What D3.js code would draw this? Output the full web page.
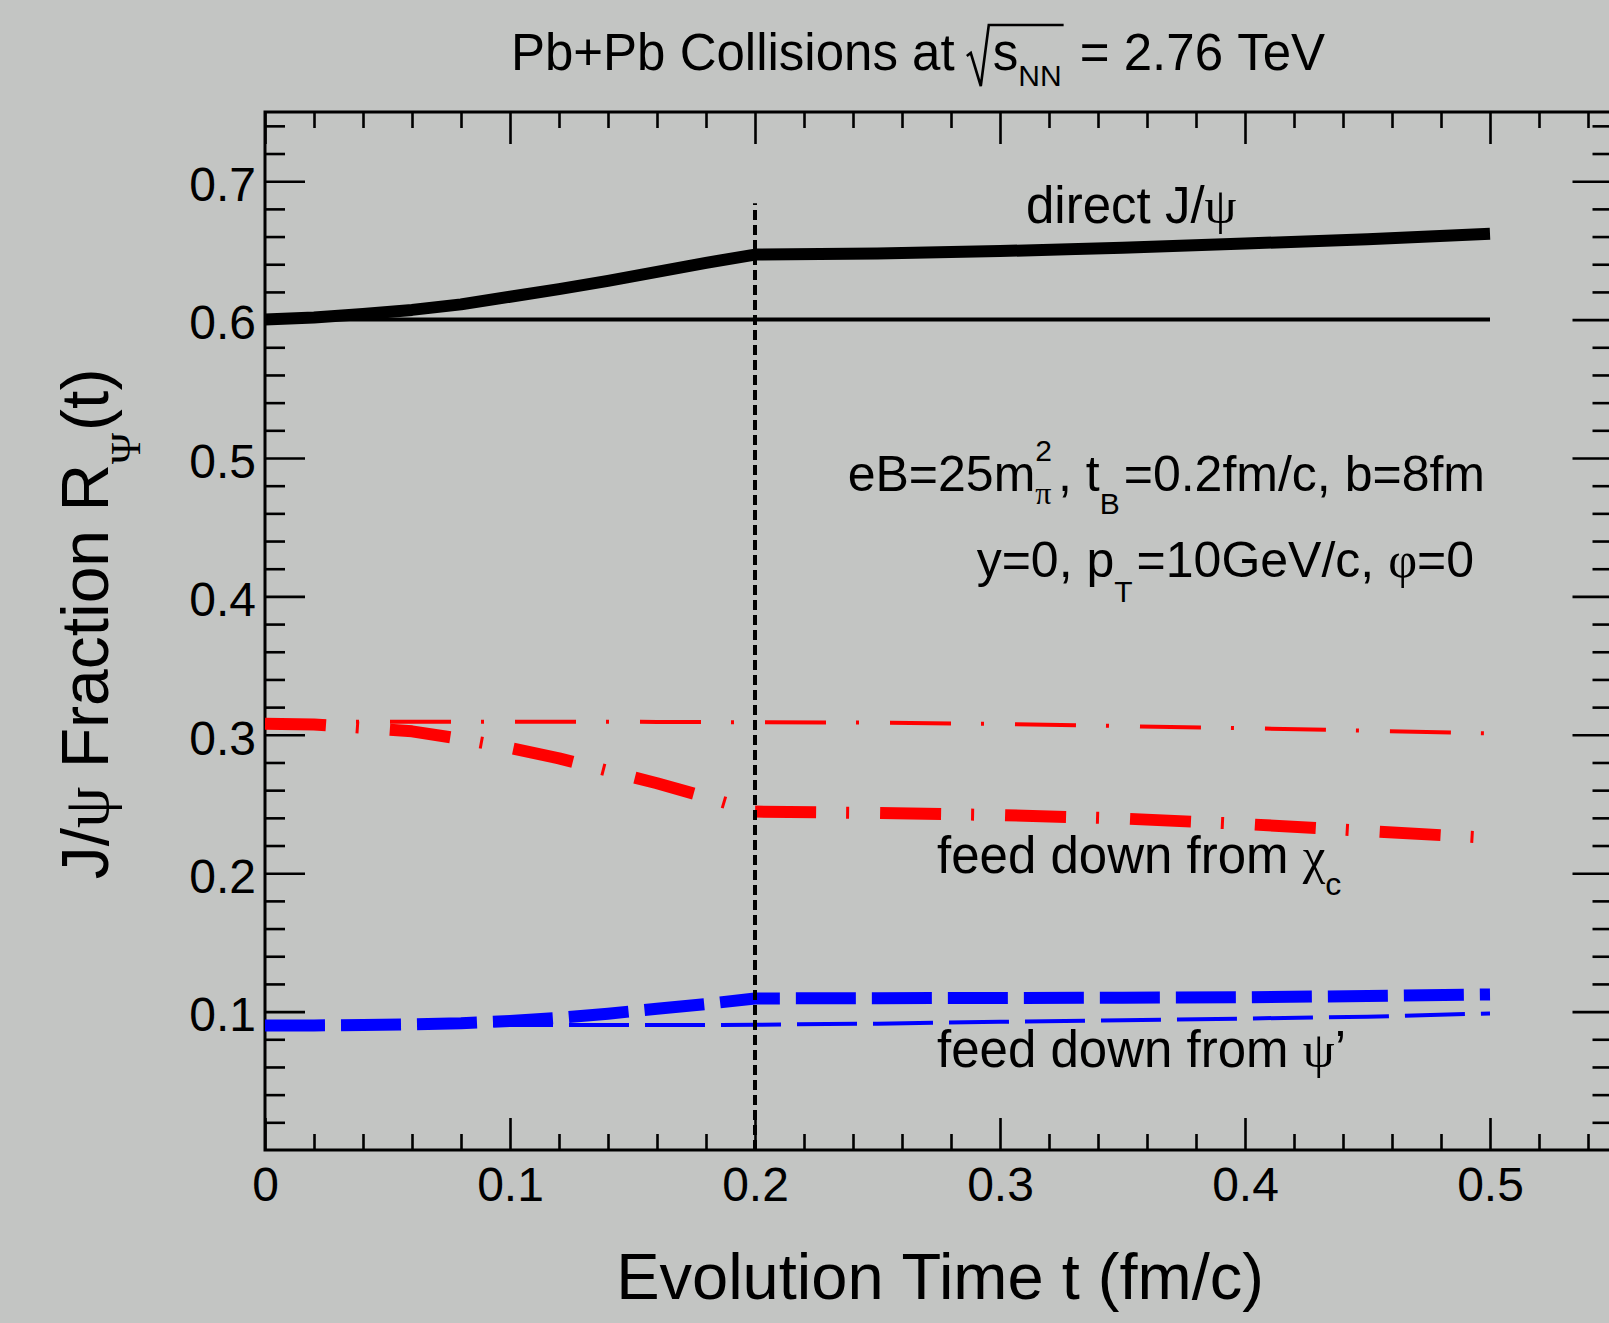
<!DOCTYPE html>
<html>
<head>
<meta charset="utf-8">
<script src="https://cdn.jsdelivr.net/npm/d3@7"></script>
<style>
  body { margin: 0; background: #c3c5c3; }
  svg { display: block; }
  text { font-family: "Liberation Sans", Arial, sans-serif; fill: #000; }
</style>
</head>
<body>
<div id="chart"></div>
<script>

// Evolution time (fm/c) where each curve was sampled
var times = [0, 0.02, 0.04, 0.06, 0.08, 0.10, 0.12, 0.14, 0.16, 0.18, 0.20, 0.25, 0.30, 0.35, 0.40, 0.45, 0.50];

// direct J/psi fraction, with and without the field
var directB  = [0.600, 0.6015, 0.604, 0.607, 0.611, 0.6165, 0.622, 0.628, 0.6345, 0.641, 0.647, 0.6477, 0.6495, 0.652, 0.655, 0.658, 0.662];
var directNoB = [0.600, 0.600, 0.600, 0.600, 0.600, 0.600, 0.600, 0.600, 0.600, 0.600, 0.600, 0.600, 0.600, 0.600, 0.600, 0.600, 0.600];

// feed down from chi_c
var chiB   = [0.308, 0.3075, 0.305, 0.3025, 0.297, 0.2905, 0.283, 0.274, 0.265, 0.255, 0.2445, 0.2435, 0.242, 0.2395, 0.2355, 0.2305, 0.2255];
var chiNoB = [0.3095, 0.3095, 0.3095, 0.3095, 0.3095, 0.3095, 0.3095, 0.3095, 0.3093, 0.3092, 0.309, 0.3088, 0.3078, 0.3063, 0.3048, 0.303, 0.301];

// feed down from psi'
var psiB   = [0.090, 0.090, 0.0903, 0.0908, 0.0916, 0.0932, 0.0955, 0.0985, 0.102, 0.1055, 0.1095, 0.1097, 0.1098, 0.110, 0.1104, 0.1112, 0.1124];
var psiNoB = [0.0903, 0.0903, 0.0903, 0.0903, 0.0903, 0.0903, 0.0903, 0.0903, 0.0903, 0.0903, 0.0905, 0.0913, 0.0926, 0.0938, 0.095, 0.0963, 0.0987];

// field switch-off time t_B and the height of its marker line
var tB = 0.2;
var tBTop = 0.684;

// axis ranges and labelled ticks
var xDomain = [0, 0.55];
var yDomain = [0, 0.75];
var xMajor = [0, 0.1, 0.2, 0.3, 0.4, 0.5];
var yMajor = [0.1, 0.2, 0.3, 0.4, 0.5, 0.6, 0.7];

var width = 1609, height = 1323;

var svg = d3.select("#chart").append("svg")
  .attr("width", width)
  .attr("height", height);

svg.append("rect")
  .attr("width", width)
  .attr("height", height)
  .attr("fill", "#c3c5c3");

var x = d3.scaleLinear().domain(xDomain).range([265, 1612.5]);
var y = d3.scaleLinear().domain(yDomain).range([1150, 112]);

// minor tick positions every 0.02, skipping the major ones
var xMinor = d3.range(1, 28).map(i => i * 0.02).filter(v => Math.abs(v * 10 - Math.round(v * 10)) > 1e-6);
var yMinor = d3.range(1, 38).map(i => i * 0.02).filter(v => Math.abs(v * 10 - Math.round(v * 10)) > 1e-6);

var xLeft = x.range()[0], xRight = x.range()[1];
var yBottom = y.range()[0], yTop = y.range()[1];

function styleAxis(g) {
  g.select(".domain").remove();
  g.selectAll(".tick line").attr("stroke", "#000").attr("stroke-width", 2.6);
}

// bottom axis, labels
svg.append("g")
  .attr("transform", "translate(0," + yBottom + ")")
  .call(d3.axisBottom(x).tickValues(xMajor).tickSize(-32).tickPadding(17).tickFormat(d => d === 0 ? "0" : d3.format(".1f")(d)))
  .call(styleAxis)
  .call(g => g.selectAll("text").attr("font-size", 48).attr("font-family", "Liberation Sans, Arial, sans-serif").attr("fill", "#000"));
svg.append("g")
  .attr("transform", "translate(0," + yBottom + ")")
  .call(d3.axisBottom(x).tickValues(xMinor).tickSize(-16).tickFormat(""))
  .call(styleAxis);

// top axis, no labels
svg.append("g")
  .attr("transform", "translate(0," + yTop + ")")
  .call(d3.axisTop(x).tickValues(xMajor).tickSize(-32).tickFormat(""))
  .call(styleAxis);
svg.append("g")
  .attr("transform", "translate(0," + yTop + ")")
  .call(d3.axisTop(x).tickValues(xMinor).tickSize(-16).tickFormat(""))
  .call(styleAxis);

// left axis
svg.append("g")
  .attr("transform", "translate(" + xLeft + ",0)")
  .call(d3.axisLeft(y).tickValues(yMajor).tickSize(-40).tickPadding(9).tickFormat(d3.format(".1f")))
  .call(styleAxis)
  .call(g => g.selectAll("text").attr("font-size", 48).attr("dy", "0.4em").attr("font-family", "Liberation Sans, Arial, sans-serif").attr("fill", "#000"));
svg.append("g")
  .attr("transform", "translate(" + xLeft + ",0)")
  .call(d3.axisLeft(y).tickValues(yMinor).tickSize(-20).tickFormat(""))
  .call(styleAxis);

// right axis
svg.append("g")
  .attr("transform", "translate(" + xRight + ",0)")
  .call(d3.axisRight(y).tickValues(yMajor).tickSize(-40).tickFormat(""))
  .call(styleAxis);
svg.append("g")
  .attr("transform", "translate(" + xRight + ",0)")
  .call(d3.axisRight(y).tickValues(yMinor).tickSize(-20).tickFormat(""))
  .call(styleAxis);

// frame
svg.append("rect")
  .attr("x", xLeft).attr("y", yTop)
  .attr("width", xRight - xLeft).attr("height", yBottom - yTop)
  .attr("fill", "none").attr("stroke", "#000").attr("stroke-width", 3);

// curves
var line = d3.line()
  .x((d, i) => x(times[i]))
  .y(d => y(d));

var curves = [
  { vals: directNoB, color: "#000", w: 4, dash: null },
  { vals: directB, color: "#000", w: 12, dash: null },
  { vals: chiNoB, color: "#ff0000", w: 4, dash: "61,30,3,31" },
  { vals: chiB, color: "#ff0000", w: 12, dash: "61,30,3,31" },
  { vals: psiNoB, color: "#0000ff", w: 4, dash: "60,16" },
  { vals: psiB, color: "#0000ff", w: 12, dash: "60,16" }
];

svg.append("g").selectAll("path")
  .data(curves)
  .enter().append("path")
  .attr("d", d => line(d.vals))
  .attr("fill", "none")
  .attr("stroke", d => d.color)
  .attr("stroke-width", d => d.w)
  .attr("stroke-dasharray", d => d.dash)
  .attr("stroke-linecap", "butt")
  .attr("stroke-linejoin", "round");

// t_B marker
svg.append("line")
  .attr("x1", x(tB)).attr("x2", x(tB))
  .attr("y1", y(0)).attr("y2", y(tBTop))
  .attr("stroke", "#000")
  .attr("stroke-width", 4)
  .attr("stroke-dasharray", "10,5");

// Lay out a sequence of text runs one after another, measuring each.
// run: {t, size, shift, serif, gap, stack}
function drawRuns(g, x0, y0, runs, anchor, color) {
  var els = [];
  var total = 0;
  runs.forEach(function(r) {
    var el = g.append("text")
      .attr("y", y0 + (r.shift || 0))
      .attr("font-size", r.size)
      .attr("fill", color || "#000")
      .style("font-family", r.serif ? "'Liberation Serif', 'DejaVu Serif', serif" : "'Liberation Sans', Arial, sans-serif")
      .text(r.t.replace(/ /g, "\u00a0"));
    var w = el.node().getComputedTextLength() + (r.gap || 0);
    els.push({ el: el, w: w, r: r });
    if (!r.stack) total += w;
  });
  var cx = anchor === "end" ? x0 - total : anchor === "middle" ? x0 - total / 2 : x0;
  var prev = 0;
  els.forEach(function(e) {
    if (e.r.stack) {
      e.el.attr("x", cx - prev);
    } else {
      e.el.attr("x", cx);
      prev = e.w;
      cx += e.w;
    }
    e.x = +e.el.attr("x");
  });
  return els;
}

// title with a drawn radical
var titleRuns = drawRuns(svg, 918, 70, [
  { t: "Pb+Pb Collisions at ", size: 51 },
  { t: "", size: 51, gap: 24 },
  { t: "s", size: 51 },
  { t: "NN", size: 30, shift: 16, gap: 4 },
  { t: " = 2.76 TeV", size: 51 }
], "middle");
var rx = titleRuns[1].x;
var rEnd = titleRuns[3].x + titleRuns[3].w - 2;
svg.append("path")
  .attr("d", "M" + (rx - 2) + ",56 L" + (rx + 2) + ",53 L" + (rx + 12) + ",86 L" + (rx + 20) + ",25 L" + rEnd + ",25")
  .attr("fill", "none")
  .attr("stroke", "#000")
  .attr("stroke-width", 2.6);

// x axis title
drawRuns(svg, 940, 1299, [{ t: "Evolution Time t (fm/c)", size: 65 }], "middle");

// y axis title
var yTitle = svg.append("g").attr("transform", "translate(108,624) rotate(-90)");
drawRuns(yTitle, 0, 0, [
  { t: "J/", size: 66 },
  { t: "ψ", size: 66, serif: true },
  { t: " Fraction R", size: 66 },
  { t: "Ψ", size: 42, serif: true, shift: 32, gap: 2 },
  { t: "(t)", size: 66 }
], "middle");

// curve labels
drawRuns(svg, 1026, 223, [
  { t: "direct J/", size: 51 },
  { t: "ψ", size: 51, serif: true }
], "start");

drawRuns(svg, 937, 873, [
  { t: "feed down from ", size: 51 },
  { t: "χ", size: 51, serif: true },
  { t: "c", size: 32, shift: 22 }
], "start", "#ff0000");

drawRuns(svg, 937, 1067, [
  { t: "feed down from ", size: 51 },
  { t: "ψ", size: 51, serif: true },
  { t: "’", size: 51 }
], "start", "#0000ff");

// parameter annotations
drawRuns(svg, 1485, 491, [
  { t: "eB=25m", size: 50 },
  { t: "2", size: 30, shift: -30, gap: 6 },
  { t: "π", size: 32, serif: true, shift: 13, stack: true },
  { t: ", t", size: 50 },
  { t: "B", size: 30, shift: 23, gap: 4 },
  { t: "=0.2fm/c, b=8fm", size: 50 }
], "end");

drawRuns(svg, 1474, 577, [
  { t: "y=0, p", size: 50 },
  { t: "T", size: 30, shift: 25, gap: 4 },
  { t: "=10GeV/c, ", size: 50 },
  { t: "φ", size: 50, serif: true },
  { t: "=0", size: 50 }
], "end");

</script>
</body>
</html>
